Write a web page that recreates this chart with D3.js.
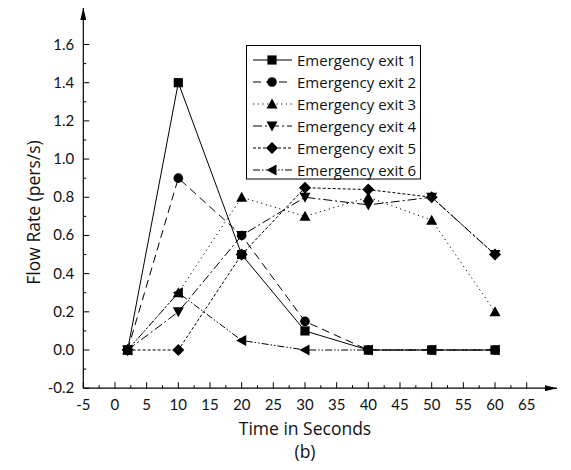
<!DOCTYPE html>
<html>
<head>
<meta charset="utf-8">
<script src="https://cdn.jsdelivr.net/npm/d3@7"></script>
<style>
  body { margin: 0; background: #fff; }
  text { font-family: "Lato", "Open Sans", sans-serif; fill: #111; }
  text.word { font-family: "Open Sans", "Lato", sans-serif; }
</style>
</head>
<body>
<svg id="chart"></svg>
<script>
// time points (seconds)
const times = [2, 10, 20, 30, 40, 50, 60];

// flow rate per exit (pers/s)
const exit1 = [0, 1.4, 0.5, 0.1, 0, 0, 0];
const exit2 = [0, 0.9, 0.6, 0.15, 0, 0, 0];
const exit3 = [0, 0.3, 0.8, 0.7, 0.8, 0.68, 0.2];
const exit4 = [0, 0.2, 0.6, 0.8, 0.76, 0.8, 0.5];
const exit5 = [0, 0, 0.5, 0.85, 0.84, 0.8, 0.5];
const exit6 = [0, 0.3, 0.05, 0, 0, 0, 0];

const seriesNames = ["Emergency exit 1", "Emergency exit 2", "Emergency exit 3",
                     "Emergency exit 4", "Emergency exit 5", "Emergency exit 6"];

const xTicks = [-5, 0, 5, 10, 15, 20, 25, 30, 35, 40, 45, 50, 55, 60, 65];
const yTicks = [-0.2, 0.0, 0.2, 0.4, 0.6, 0.8, 1.0, 1.2, 1.4, 1.6];

const series = [exit1, exit2, exit3, exit4, exit5, exit6].map((vals, i) => ({
  name: seriesNames[i],
  values: vals.map((v, j) => ({ t: times[j], v: v }))
}));

// line styles and markers, one per series
const dashes = ["none", "8,5", "1.2,3.5", "9,3,2,3", "3,2", "7,2,1.5,2,1.5,2"];
const markers = ["square", "circle", "up", "down", "diamond", "left"];

const W = 571, H = 470;
const svg = d3.select("#chart").attr("width", W).attr("height", H);

const x = d3.scaleLinear().domain([-5, 65]).range([83.3, 526.7]);
const y = d3.scaleLinear().domain([-0.2, 1.6]).range([388.2, 44.5]);

const x0 = x(-5), y0 = y(-0.2);

// marker shapes
function marker(sel, kind) {
  const s = 4.6;
  let d;
  if (kind === "square") d = `M${-s},${-s}H${s}V${s}H${-s}Z`;
  else if (kind === "circle") { sel.append("circle").attr("r", 4.8).attr("fill", "#000"); return; }
  else if (kind === "up") d = `M0,${-5.5}L${5.5},${4.5}L${-5.5},${4.5}Z`;
  else if (kind === "down") d = `M0,${5.5}L${5.5},${-4.5}L${-5.5},${-4.5}Z`;
  else if (kind === "diamond") d = `M0,-6L6,0L0,6L-6,0Z`;
  else if (kind === "left") d = `M${-5.5},0L${4.5},${-5.5}L${4.5},${5.5}Z`;
  sel.append("path").attr("d", d).attr("fill", "#000");
}

// axes lines with arrows
svg.append("defs").append("marker")
  .attr("id", "arrow").attr("viewBox", "0 0 12 6")
  .attr("refX", 12).attr("refY", 3)
  .attr("markerWidth", 12).attr("markerHeight", 6)
  .attr("markerUnits", "userSpaceOnUse")
  .attr("orient", "auto")
  .append("path").attr("d", "M0,0L12,3L0,6Z").attr("fill", "#000");

svg.append("line").attr("x1", x0).attr("y1", y0).attr("x2", 557).attr("y2", y0)
  .attr("stroke", "#000").attr("stroke-width", 1.2).attr("marker-end", "url(#arrow)");
svg.append("line").attr("x1", x0).attr("y1", y0).attr("x2", x0).attr("y2", 8)
  .attr("stroke", "#000").attr("stroke-width", 1.2).attr("marker-end", "url(#arrow)");

// x ticks (pointing inwards), minor every 2.5
const gx = svg.append("g");
d3.range(-5, 65.01, 2.5).forEach(t => {
  const major = xTicks.includes(t);
  gx.append("line").attr("x1", x(t)).attr("x2", x(t))
    .attr("y1", y0).attr("y2", y0 - (major ? 6 : 3))
    .attr("stroke", "#000").attr("stroke-width", 1);
});
gx.selectAll("text.xt").data(xTicks).join("text")
  .attr("x", d => x(d)).attr("y", y0 + 22)
  .attr("text-anchor", "middle").attr("font-size", 15)
  .text(d => d);

// y ticks, minor every 0.1
const gy = svg.append("g");
d3.range(-0.2, 1.601, 0.1).forEach(v => {
  const major = Math.abs(Math.round(v * 10) % 2) === 0;
  gy.append("line").attr("x1", x0).attr("x2", x0 + (major ? 6 : 3))
    .attr("y1", y(v)).attr("y2", y(v))
    .attr("stroke", "#000").attr("stroke-width", 1);
});
gy.selectAll("text.yt").data(yTicks).join("text")
  .attr("x", x0 - 9).attr("y", d => y(d) + 5)
  .attr("text-anchor", "end").attr("font-size", 15)
  .text(d => d.toFixed(1));

// axis titles
svg.append("text").attr("class", "word").attr("x", x(30)).attr("y", 435)
  .attr("text-anchor", "middle").attr("font-size", 17.5).text("Time in Seconds");
svg.append("text").attr("class", "word").attr("x", x(30)).attr("y", 458)
  .attr("text-anchor", "middle").attr("font-size", 17.5).text("(b)");
svg.append("text").attr("class", "word")
  .attr("transform", `translate(40,${y(0.72)}) rotate(-90)`)
  .attr("text-anchor", "middle").attr("font-size", 17.5).text("Flow Rate (pers/s)");

// lines
const line = d3.line().x(d => x(d.t)).y(d => y(d.v));
series.forEach((s, i) => {
  svg.append("path").datum(s.values)
    .attr("d", line).attr("fill", "none")
    .attr("stroke", "#000").attr("stroke-width", 1)
    .attr("stroke-dasharray", dashes[i]);
});
series.forEach((s, i) => {
  s.values.forEach(p => {
    const g = svg.append("g").attr("transform", `translate(${x(p.t)},${y(p.v)})`);
    marker(g, markers[i]);
  });
});

// legend
const lg = svg.append("g");
lg.append("rect").attr("x", 246.5).attr("y", 45.5).attr("width", 174).attr("height", 133.5)
  .attr("fill", "#fff").attr("stroke", "#000").attr("stroke-width", 1);
seriesNames.forEach((n, i) => {
  const ly = 60 + i * 22;
  lg.append("line").attr("x1", 253).attr("x2", 292).attr("y1", ly).attr("y2", ly)
    .attr("stroke", "#000").attr("stroke-width", 1).attr("stroke-dasharray", dashes[i]);
  marker(lg.append("g").attr("transform", `translate(272,${ly})`), markers[i]);
  lg.append("text").attr("class", "word").attr("x", 297).attr("y", ly + 5.5)
    .attr("font-size", 15).text(n);
});
</script>
</body>
</html>
